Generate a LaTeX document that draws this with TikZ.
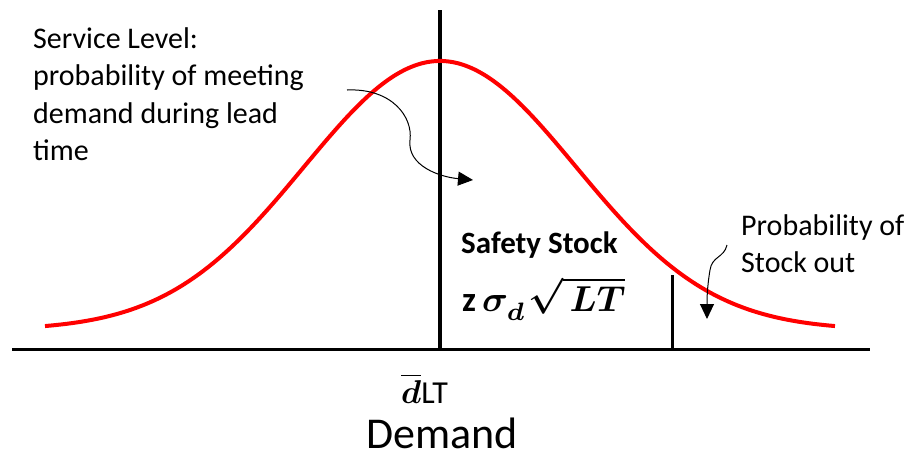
\documentclass[tikz,border=0pt]{standalone}
\usepackage{fontspec}
\setmainfont{Carlito}
\usetikzlibrary{arrows.meta}
\newcommand{\bigmath}[2]{\scalebox{#1}{\fontsize{10}{12}\selectfont\boldmath$#2$}}
\begin{document}
\begin{tikzpicture}[x=1pt,y=-1pt,
  axis/.style={line width=3pt},
  curve/.style={red, line width=4pt},
  note/.style={inner sep=0pt, align=left, font=\fontsize{30}{37.5}\selectfont},
  pointer/.style={line width=1pt, -{Triangle[length=15pt,width=14pt]}}]
\useasboundingbox (0,0) rectangle (919,459);
% axes
\coordinate (axL) at (12,349);
\coordinate (axR) at (870,349);
\draw[axis] (axL) -- (axR);
\coordinate (mTop) at (440,10);
\coordinate (mBot) at (440,349);
\draw[axis, line width=3.5pt] (mTop) -- (mBot);
% normal curve
\draw[curve, domain=45:835, samples=150, smooth]
  plot (\x, {330-269*exp(-0.5*((\x-440)/136)^2)});
% safety stock line
\coordinate (sTop) at (672,275);
\coordinate (sBot) at (672,349);
\draw[axis] (sTop) -- (sBot);
% texts
\node[note, anchor=north west] (sl) at (33,27)
  {Service Level:\\probability of meeting\\demand during lead\\time};
\node[note, anchor=north west] (so) at (741,214)
  {Probability of\\Stock out};
\node[anchor=base west, inner sep=0pt, font=\bfseries\fontsize{31}{31}\selectfont] (ss) at (461,253) {Safety Stock};
\node[anchor=base west, inner sep=0pt, font=\fontsize{35}{35}\selectfont] (f) at (462,311)
  {\textbf{z}\hspace{6pt}\bigmath{3.6}{\sigma_{\lower1.2pt\hbox{$\scriptstyle d$}}\mkern1mu\sqrt{\mkern3mu LT}}};
\node[anchor=base west, inner sep=0pt] (dl) at (401,403)
  {\bigmath{3.3}{\overline{d}}{\fontsize{32}{32}\selectfont LT}};
\node[anchor=base, inner sep=0pt, font=\fontsize{44}{44}\selectfont] (dm) at (442,448) {Demand};
% arrows
\coordinate (a1s) at (347,90);
\coordinate (a1e) at (473,180);
\draw[pointer] (a1s) .. controls (392,88) and (413,117) .. (410,140)
  .. controls (407,166) and (440,177) .. (a1e);
\coordinate (a2s) at (727,245);
\coordinate (a2e) at (707,319);
\draw[pointer] (a2s) .. controls (724,258) and (712,256) .. (710,270)
  .. controls (707,288) and (707,300) .. (a2e);
\end{tikzpicture}
\end{document}
